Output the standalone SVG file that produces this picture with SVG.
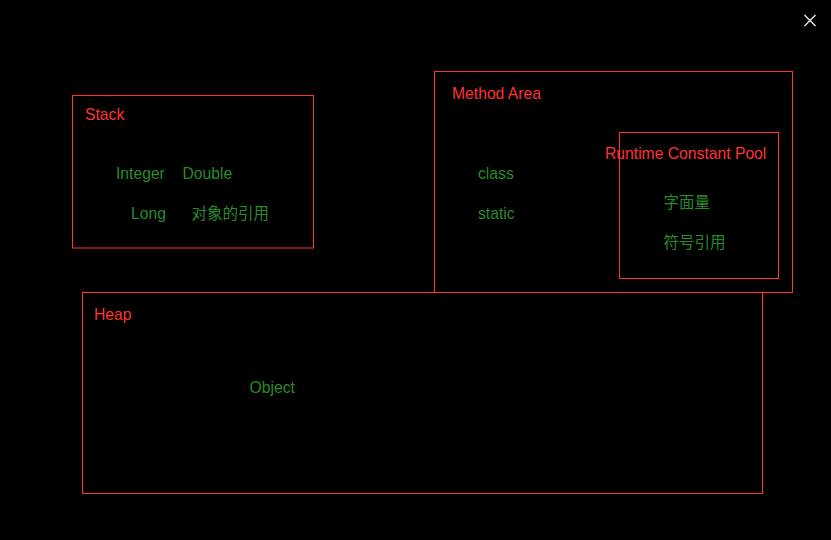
<svg xmlns="http://www.w3.org/2000/svg" width="831" height="540" viewBox="0 0 831 540">
<style>
.box{fill:none;stroke:#f33;stroke-width:1}
.t{font-family:"Liberation Sans","Noto Sans CJK SC",sans-serif;font-size:15.7px}
.r{fill:#f33}
.g{fill:#2a8a2a}
.c{font-family:"Noto Sans CJK SC",sans-serif;font-size:15.5px;fill:#2a8a2a}
</style>
<rect x="0" y="0" width="831" height="540" fill="#000"/>
<g id="close" stroke="#ddd" stroke-width="1.6">
<line x1="804.5" y1="15" x2="815.5" y2="26"/>
<line x1="815.5" y1="15" x2="804.5" y2="26"/>
</g>
<g id="connectors"></g>
<g id="stack">
<rect class="box" x="72.5" y="95.5" width="241" height="152.5"/>
<text class="t r" x="85" y="120">Stack</text>
<text class="t g" x="116" y="179">Integer</text>
<text class="t g" x="182.5" y="179">Double</text>
<text class="t g" x="131" y="219">Long</text>
<text class="c" x="191.5" y="219">对象的引用</text>
</g>
<g id="method-area">
<rect class="box" x="434.5" y="71.5" width="358" height="221"/>
<text class="t r" x="452" y="99">Method Area</text>
<text class="t g" x="478" y="179">class</text>
<text class="t g" x="478" y="219">static</text>
</g>
<g id="runtime-constant-pool">
<rect class="box" x="619.5" y="132.5" width="159" height="146"/>
<text class="t r" x="605" y="159">Runtime Constant Pool</text>
<text class="c" x="663.5" y="207.5">字面量</text>
<text class="c" x="663.5" y="247.5">符号引用</text>
</g>
<g id="heap">
<rect class="box" x="82.5" y="292.5" width="680" height="201"/>
<text class="t r" x="94" y="320">Heap</text>
<text class="t g" x="249.5" y="393">Object</text>
</g>
</svg>
